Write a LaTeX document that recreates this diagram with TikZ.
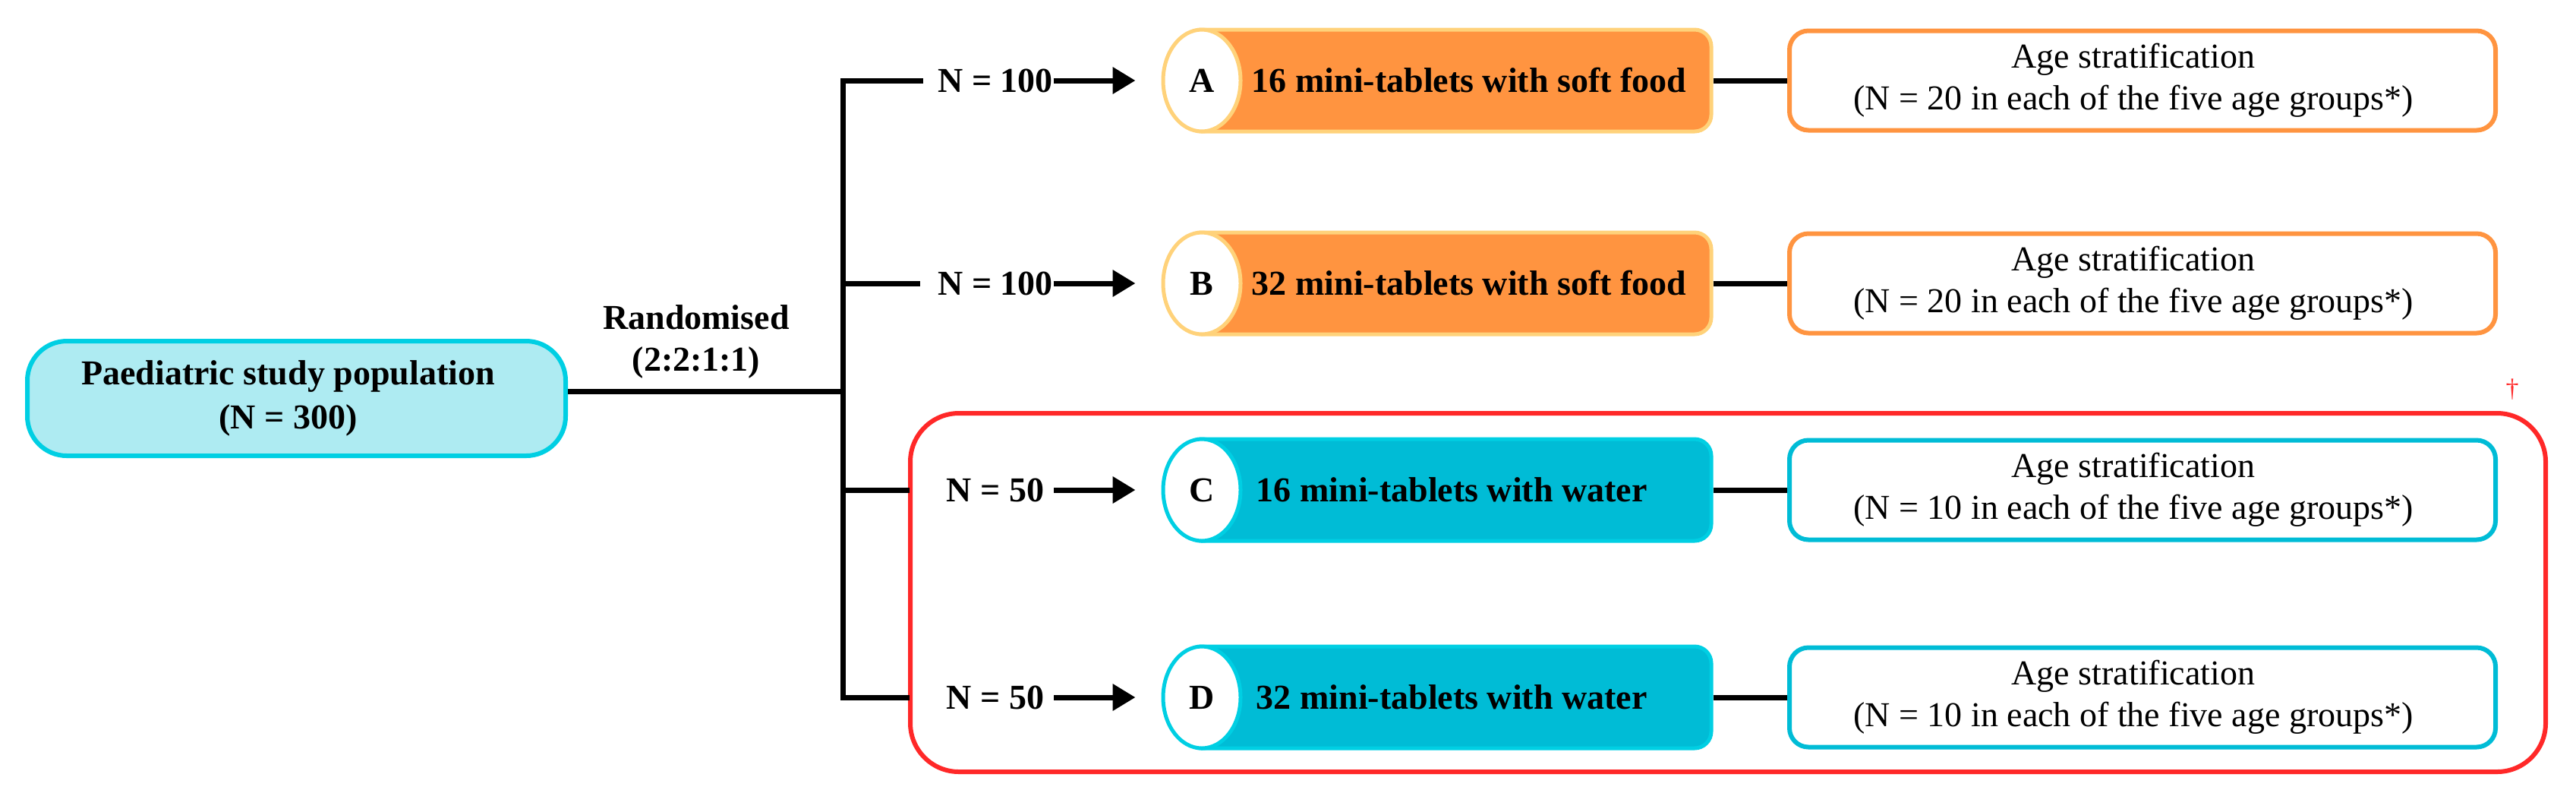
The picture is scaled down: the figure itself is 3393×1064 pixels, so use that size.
\documentclass[tikz,border=0pt]{standalone}
\usepackage{fontspec}
\setmainfont{Liberation Serif}
\usetikzlibrary{shapes.geometric,arrows.meta}
\definecolor{orF}{HTML}{FF9440}
\definecolor{orB}{HTML}{FFD27A}
\definecolor{cyF}{HTML}{00BCD6}
\definecolor{cyB}{HTML}{00CFE3}
\definecolor{popF}{HTML}{AEEBF2}
\definecolor{redB}{HTML}{FF2828}
\newcommand{\padR}{\hspace*{6pt}}
\begin{document}
\begin{tikzpicture}[x=0.25pt,y=-0.25pt,
  font=\fontsize{11.5}{13.8}\selectfont,
  conn/.style={line width=1.75pt, black},
  arr/.style={conn, -{Triangle[length=7.5pt,width=8.5pt]}},
  popbox/.style={draw=cyB, fill=popF, line width=1.5pt, rounded corners=13pt,
    minimum width=177.25pt, minimum height=37.75pt, align=center,
    font=\fontsize{11.5}{14.5}\selectfont\bfseries, inner sep=0pt},
  cylbody/.style={rectangle, rounded corners=5.5pt, line width=1.25pt,
    minimum width=173.5pt, minimum height=33.5pt, inner sep=0pt},
  cylend/.style={ellipse, fill=white, line width=1.25pt, minimum width=25.5pt,
    minimum height=33.5pt, inner sep=0pt, font=\fontsize{11.5}{13.8}\selectfont\bfseries},
  agebox/.style={rectangle, rounded corners=6.25pt, line width=1.5pt, fill=white,
    minimum width=232.5pt, minimum height=32.75pt, align=center, inner sep=0pt},
  boldlab/.style={font=\fontsize{11.5}{13.8}\selectfont\bfseries, inner sep=0pt},
  grpbox/.style={draw=redB, line width=1.5pt, rounded corners=16pt,
    minimum width=538.5pt, minimum height=118pt, inner sep=0pt}
]
\useasboundingbox (0,0) rectangle (3393,1064);

% group box
\node[grpbox] (grp) at (2276,780) {};
\node[text=redB, font=\fontsize{8.5}{10}\selectfont, inner sep=0pt] (dag) at (3309,513) {†};

% population
\node[popbox] (pop) at (390.5,524.5) {Paediatric study population\hspace*{5.5pt}\\(N = 300)\hspace*{5.5pt}};
\node[boldlab, align=center, font=\fontsize{11.5}{13.75}\selectfont\bfseries] (rand) at (917,450) {Randomised\\(2:2:1:1)};

% junction coordinates
\coordinate (jM) at (1110,515);
\coordinate (jA) at (1110,106);
\coordinate (jB) at (1110,373);
\coordinate (jC) at (1110,645);
\coordinate (jD) at (1110,918);
\coordinate (eA) at (1216,106);
\coordinate (eB) at (1212,373);
\coordinate (eC) at (1198,645);
\coordinate (eD) at (1198,918);

% labels
\node[boldlab] (nA) at (1311,106) {N = 100};
\node[boldlab] (nB) at (1311,373) {N = 100};
\node[boldlab] (nC) at (1311,645) {N = 50};
\node[boldlab] (nD) at (1311,918) {N = 50};

% cylinders
\node[cylbody, draw=orB, fill=orF] (cylA) at (1907,106) {};
\node[cylend, draw=orB] (capA) at (1583,106) {A};
\node[boldlab, anchor=west] (txA) at (1648,106) {16 mini-tablets with soft food};

\node[cylbody, draw=orB, fill=orF] (cylB) at (1907,373) {};
\node[cylend, draw=orB] (capB) at (1583,373) {B};
\node[boldlab, anchor=west] (txB) at (1648,373) {32 mini-tablets with soft food};

\node[cylbody, draw=cyB, fill=cyF] (cylC) at (1907,645) {};
\node[cylend, draw=cyB] (capC) at (1583,645) {C};
\node[boldlab, anchor=west] (txC) at (1654,645) {16 mini-tablets with water};

\node[cylbody, draw=cyB, fill=cyF] (cylD) at (1907,918) {};
\node[cylend, draw=cyB] (capD) at (1583,918) {D};
\node[boldlab, anchor=west] (txD) at (1654,918) {32 mini-tablets with water};

% age boxes
\node[agebox, draw=orF] (ageA) at (2822,106) {Age stratification\padR\\(N = 20 in each of the five age groups*)\padR};
\node[agebox, draw=orF] (ageB) at (2822,373) {Age stratification\padR\\(N = 20 in each of the five age groups*)\padR};
\node[agebox, draw=cyF] (ageC) at (2822,645) {Age stratification\padR\\(N = 10 in each of the five age groups*)\padR};
\node[agebox, draw=cyF] (ageD) at (2822,918) {Age stratification\padR\\(N = 10 in each of the five age groups*)\padR};

% connectors
\draw[conn] (eA) -- (jA) -- (jD) -- (eD);
\draw[conn] (jB) -- (eB);
\draw[conn] (jC) -- (eC);
\draw[conn] (pop.east |- jM) -- (jM);

\draw[arr, shorten >=8.5pt] (nA.east) -- (capA.west);
\draw[arr, shorten >=8.5pt] (nB.east) -- (capB.west);
\draw[arr, shorten <=3pt, shorten >=8.5pt] (nC.east) -- (capC.west);
\draw[arr, shorten <=3pt, shorten >=8.5pt] (nD.east) -- (capD.west);

\draw[conn] (cylA.east) -- (ageA.west);
\draw[conn] (cylB.east) -- (ageB.west);
\draw[conn] (cylC.east) -- (ageC.west);
\draw[conn] (cylD.east) -- (ageD.west);
\end{tikzpicture}
\end{document}
